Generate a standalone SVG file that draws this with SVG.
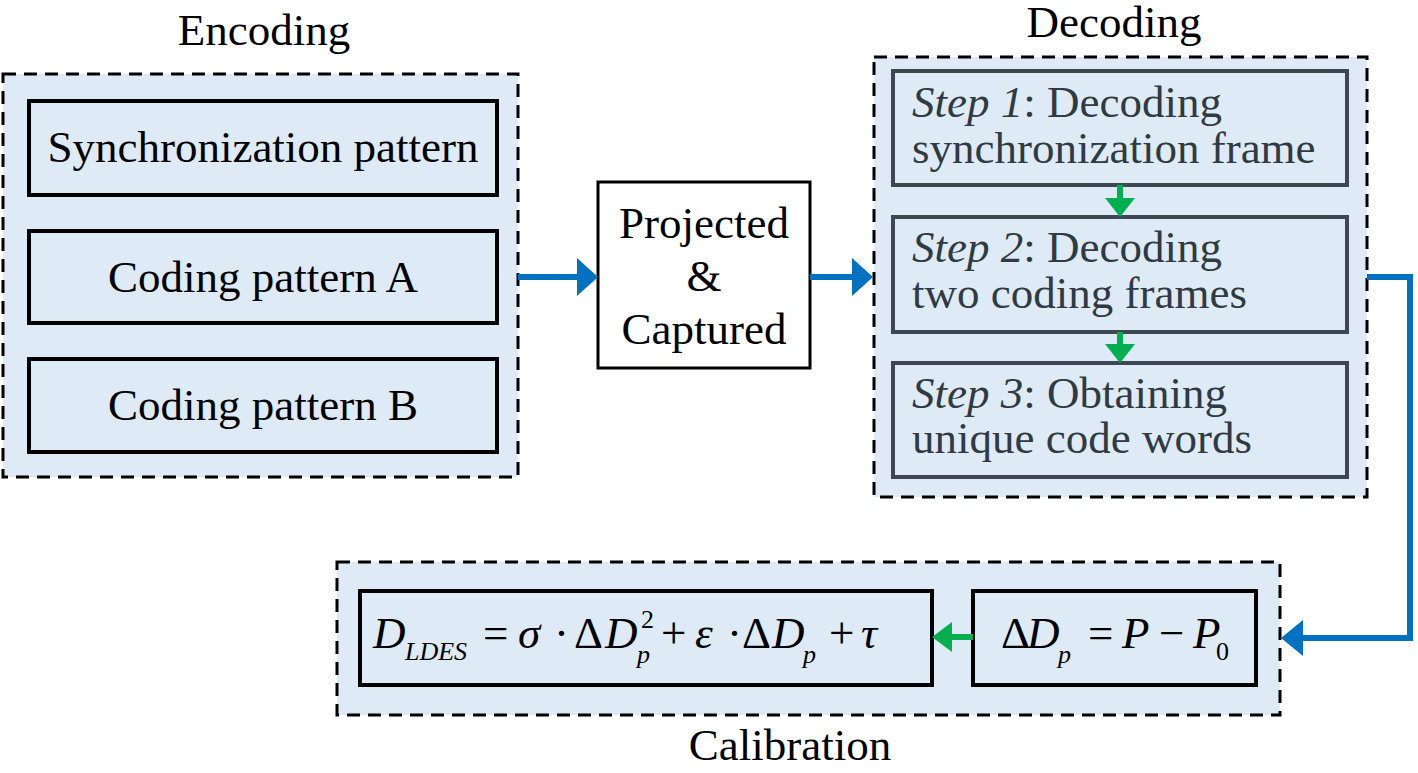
<svg xmlns="http://www.w3.org/2000/svg" width="1418" height="773" viewBox="0 0 1418 773" font-family="Liberation Serif, serif">
<style>
text{font-family:"Liberation Serif","Times New Roman",serif;font-size:45px;fill:#000}
.c{text-anchor:middle}
.it{font-style:italic}
.sub{font-size:26px}
.grp{fill:#DEEBF7;stroke:#000;stroke-width:3;stroke-dasharray:13 8}
.box{fill:#DEEBF7;stroke:#000;stroke-width:4}
.wbox{fill:#fff;stroke:#000;stroke-width:3}
.step{fill:#DEEBF7;stroke:#3d4852;stroke-width:4}
.stxt{fill:#2f3a42}
.blue{fill:none;stroke:#0070C0;stroke-width:6}
.bh{fill:#0070C0}
.green{fill:none;stroke:#00B050;stroke-width:6}
.gh{fill:#00B050}
</style>
<rect width="1418" height="773" fill="#fff"/>

<g id="encoding">
<text class="c" x="264" y="45">Encoding</text>
<rect class="grp" x="3" y="74" width="515" height="403"/>
</g>
<g id="sync-pattern">
<rect class="box" x="29" y="101" width="468" height="94"/>
<text class="c" x="263" y="162">Synchronization pattern</text>
</g>
<g id="coding-a">
<rect class="box" x="29" y="231" width="468" height="92"/>
<text class="c" x="263" y="292">Coding pattern A</text>
</g>
<g id="coding-b">
<rect class="box" x="29" y="359" width="468" height="93"/>
<text class="c" x="263" y="420">Coding pattern B</text>
</g>

<g id="projected">
<rect class="wbox" x="598" y="182" width="212" height="186"/>
<text class="c" x="704" y="238">Projected</text>
<text class="c" x="704" y="291">&amp;</text>
<text class="c" x="704" y="344">Captured</text>
</g>

<g id="decoding">
<text class="c" x="1114" y="37">Decoding</text>
<rect class="grp" x="874" y="57" width="493" height="440"/>
</g>
<g id="step1">
<rect class="step" x="893" y="71" width="454" height="114"/>
<text class="stxt" x="912" y="117"><tspan class="it">Step 1</tspan>: Decoding</text>
<text class="stxt" x="912" y="163">synchronization frame</text>
</g>
<g id="step2">
<rect class="step" x="893" y="217" width="454" height="115"/>
<text class="stxt" x="912" y="262"><tspan class="it">Step 2</tspan>: Decoding</text>
<text class="stxt" x="912" y="308">two coding frames</text>
</g>
<g id="step3">
<rect class="step" x="893" y="363" width="454" height="114"/>
<text class="stxt" x="912" y="408"><tspan class="it">Step 3</tspan>: Obtaining</text>
<text class="stxt" x="912" y="453">unique code words</text>
</g>

<g id="calibration">
<rect class="grp" x="337" y="562" width="943" height="153"/>
<text class="c" x="790" y="760">Calibration</text>
</g>
<g id="formula-ldes">
<rect class="box" x="360" y="591" width="572" height="94"/>
<text y="648"><tspan class="it" x="373">D</tspan><tspan class="it sub" x="405" y="660">LDES</tspan><tspan x="483" y="648">=</tspan><tspan class="it" x="518">σ</tspan><tspan x="554">·</tspan><tspan x="574">Δ</tspan><tspan class="it" x="605">D</tspan><tspan class="sub" x="641" y="628">2</tspan><tspan class="it sub" x="637" y="663">p</tspan><tspan x="661" y="648">+</tspan><tspan class="it" x="695">ε</tspan><tspan x="727">·</tspan><tspan x="742">Δ</tspan><tspan class="it" x="772">D</tspan><tspan class="it sub" x="803" y="663">p</tspan><tspan x="829" y="648">+</tspan><tspan class="it" x="861">τ</tspan></text>
</g>
<g id="formula-dp">
<rect class="box" x="973" y="591" width="283" height="94"/>
<text y="648"><tspan x="1001">Δ</tspan><tspan class="it" x="1027">D</tspan><tspan class="it sub" x="1058" y="663">p</tspan><tspan x="1088" y="648">=</tspan><tspan class="it" x="1122">P</tspan><tspan x="1159">−</tspan><tspan class="it" x="1193">P</tspan><tspan class="sub" x="1216" y="660">0</tspan></text>
</g>

<g id="connectors">
<line class="blue" x1="518" y1="277" x2="580" y2="277"/>
<polygon class="bh" points="577,258 598,277 577,296"/>
<line class="blue" x1="810" y1="277" x2="855" y2="277"/>
<polygon class="bh" points="852,258 873,277 852,296"/>
<path class="blue" d="M1367,277 H1410 V638 H1300"/>
<polygon class="bh" points="1303,620 1281,638 1303,656"/>
<line class="green" x1="1120" y1="185" x2="1120" y2="201"/>
<polygon class="gh" points="1105,198 1120,217 1135,198"/>
<line class="green" x1="1120" y1="332" x2="1120" y2="347"/>
<polygon class="gh" points="1105,344 1120,363 1135,344"/>
<line class="green" x1="973" y1="637" x2="950" y2="637"/>
<polygon class="gh" points="952,622 932,637 952,652"/>
</g>
</svg>
